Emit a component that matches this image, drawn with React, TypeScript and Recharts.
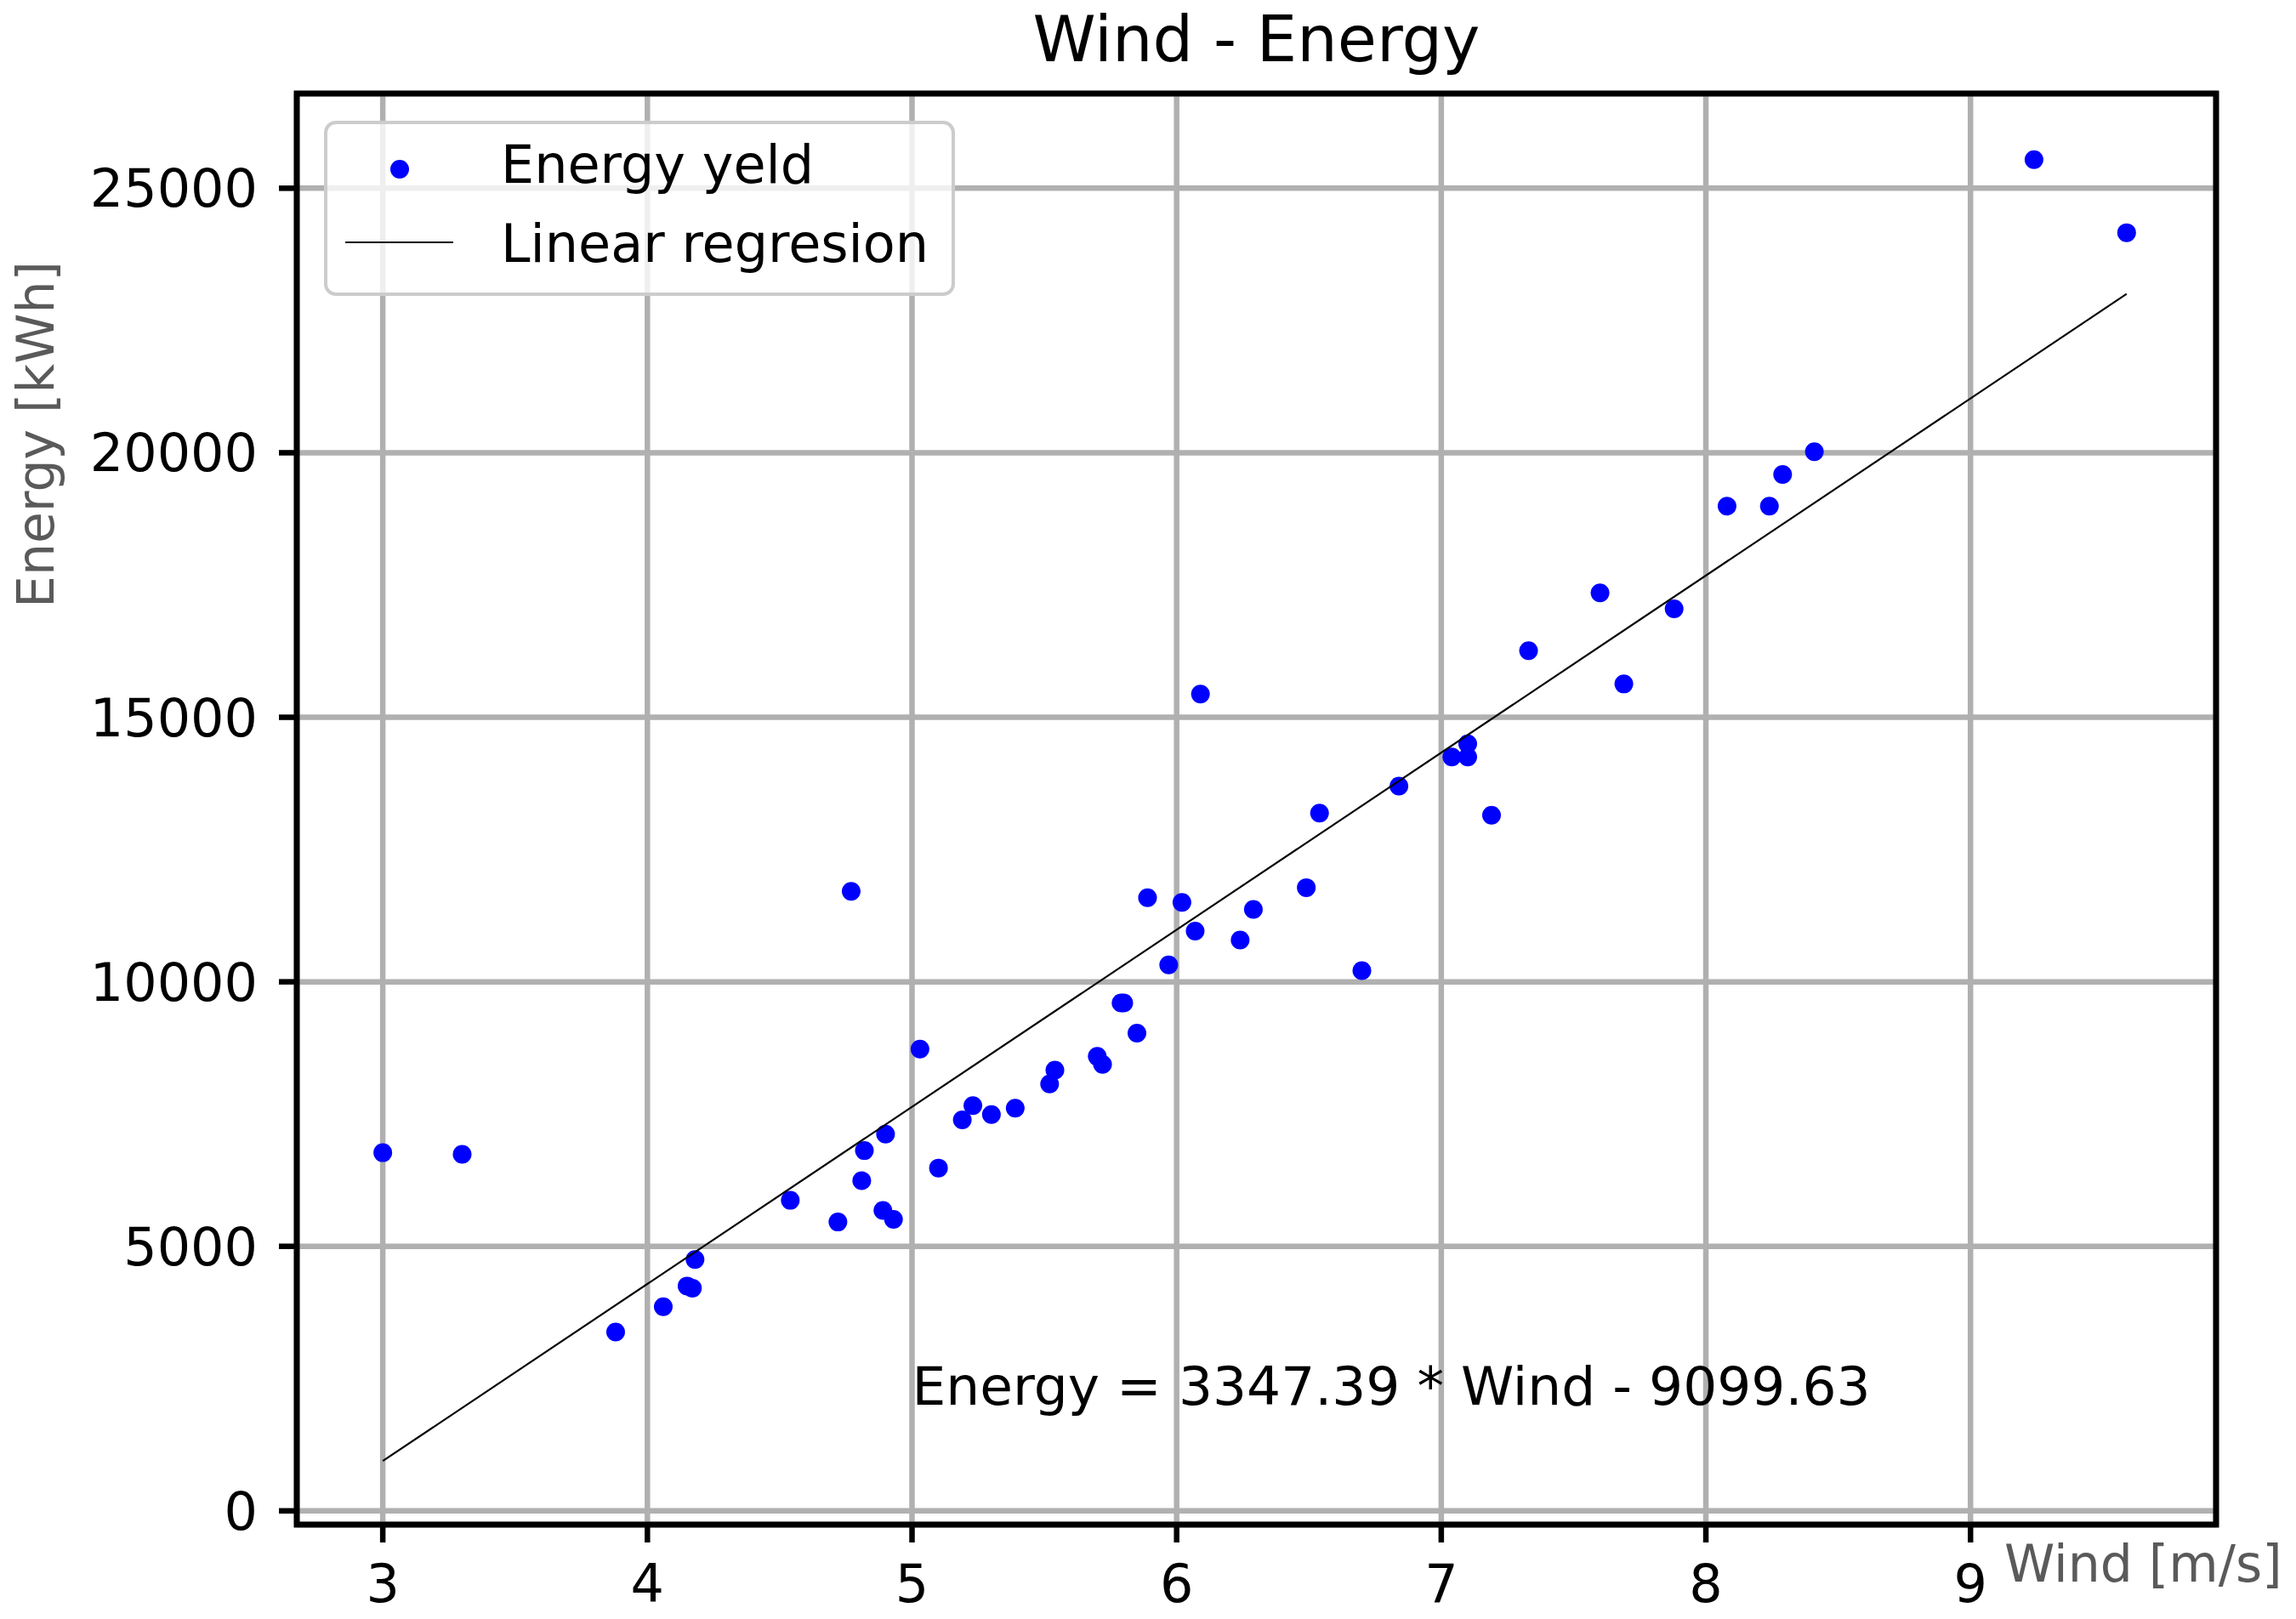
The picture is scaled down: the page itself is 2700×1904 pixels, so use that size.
import React from 'react';
import {
  ScatterChart,
  Scatter,
  XAxis,
  YAxis,
  CartesianGrid,
  ReferenceArea,
  ReferenceDot,
  Legend
} from 'recharts';

// measured wind speed [m/s] and energy yield [kWh]
const windSpeed = [
  3.0, 3.3, 3.88, 4.06, 4.15, 4.17, 4.18, 4.54, 4.72, 4.77, 4.81, 4.82, 4.89, 4.9,
  4.93, 5.03, 5.1, 5.19, 5.23, 5.3, 5.39, 5.52, 5.54, 5.7, 5.72, 5.79, 5.8, 5.85,
  5.89, 5.97, 6.02, 6.07, 6.09, 6.24, 6.29, 6.49, 6.54, 6.7, 6.84, 7.04, 7.1, 7.1,
  7.19, 7.33, 7.6, 7.69, 7.88, 8.08, 8.24, 8.29, 8.41, 9.24, 9.59
];
const energyYield = [
  6770, 6740, 3380, 3860, 4250, 4210, 4750, 5870, 5460, 11710, 6240, 6810, 5680, 7120,
  5510, 8730, 6480, 7390, 7660, 7490, 7610, 8070, 8330, 8590, 8440, 9600, 9600, 9030,
  11590, 10320, 11500, 10960, 15440, 10790, 11370, 11780, 13190, 10210, 13700, 14250, 14500, 14250,
  13150, 16260, 17350, 15630, 17050, 18990, 18990, 19590, 20020, 25540, 24160
];

const xTicks = [3, 4, 5, 6, 7, 8, 9];
const yTicks = [0, 5000, 10000, 15000, 20000, 25000];
const xDomain = [2.675, 9.928];
const yDomain = [-260, 26790];

// regression shown in the chart
const SLOPE = 3347.39;
const INTERCEPT = -9099.63;
const fitRange = [3.0, 9.59];
const EQUATION = `Energy = ${SLOPE} * Wind - ${Math.abs(INTERCEPT)}`;
const equationAt = { wind: 5.0, energy: 2000 };

const points = windSpeed.map((w, i) => ({ wind: w, energy: energyYield[i] }));
const fitLine = fitRange.map((w) => ({ wind: w, energy: SLOPE * w + INTERCEPT }));

const FONT = '"DejaVu Sans", Verdana, sans-serif';
const LABEL_GREY = '#5a5a5a';

const XTick = (props: any) => (
  <text x={props.x} y={props.y + 70} textAnchor="middle" fontSize={62} fontFamily={FONT} fill="#000">
    {props.payload.value}
  </text>
);

const YTick = (props: any) => (
  <text x={props.x} y={props.y + 22} textAnchor="end" fontSize={62} fontFamily={FONT} fill="#000">
    {props.payload.value}
  </text>
);

const XLabel = (props: any) => {
  const vb = props.viewBox;
  return (
    <text x={vb.x + 2008} y={vb.y + 67} fontSize={60} fontFamily={FONT} fill={LABEL_GREY}>
      Wind [m/s]
    </text>
  );
};

const YLabel = (props: any) => {
  const vb = props.viewBox;
  return (
    <text
      transform={`translate(${vb.x + 63}, ${vb.y + 401}) rotate(-90)`}
      textAnchor="middle"
      fontSize={60}
      fontFamily={FONT}
      fill={LABEL_GREY}
    >
      Energy [kWh]
    </text>
  );
};

const EquationLabel = (props: any) => {
  const vb = props.viewBox || { x: 0, y: 0, width: 0, height: 0 };
  return (
    <text x={vb.x + vb.width / 2} y={vb.y + vb.height / 2} fontSize={63} fontFamily={FONT} fill="#000">
      {EQUATION}
    </text>
  );
};

const LegendBox = () => (
  <svg width={742} height={206} style={{ display: 'block' }}>
    <rect x={2} y={2} width={738} height={202} rx={12} fill="#fff" fillOpacity={0.8} stroke="#cccccc" strokeWidth={4} />
    <circle cx={89} cy={57} r={11} fill="#0000ff" />
    <line x1={25} x2={152} y1={143} y2={143} stroke="#000" strokeWidth={2} />
    <text x={208} y={73} fontSize={62} fontFamily={FONT} fill="#000">Energy yeld</text>
    <text x={208} y={166} fontSize={62} fontFamily={FONT} fill="#000">Linear regresion</text>
  </svg>
);

const Dot = (props: any) => <circle cx={props.cx} cy={props.cy} r={11} fill="#0000ff" />;
const NoDot = () => <g />;

export default function App() {
  return (
    <div style={{ position: 'absolute', left: 0, top: 0, width: 2700, height: 1904, background: '#fff' }}>
      <div
        style={{
          position: 'absolute',
          left: 349,
          top: 9,
          width: 2257,
          textAlign: 'center',
          fontFamily: FONT,
          fontSize: 75,
          lineHeight: '75px',
          color: '#000',
          zIndex: 2
        }}
      >
        Wind - Energy
      </div>
      <ScatterChart width={2700} height={1904} margin={{ top: 110, right: 94, bottom: 0, left: 0 }}>
        <CartesianGrid stroke="#b0b0b0" strokeWidth={6.5} />
        <XAxis
          type="number"
          dataKey="wind"
          domain={xDomain}
          ticks={xTicks}
          interval={0}
          allowDataOverflow
          height={111}
          tickSize={21}
          tickMargin={0}
          axisLine={false}
          tickLine={{ stroke: '#000', strokeWidth: 6.5 }}
          tick={<XTick />}
          label={XLabel}
        />
        <YAxis
          type="number"
          dataKey="energy"
          domain={yDomain}
          ticks={yTicks}
          interval={0}
          allowDataOverflow
          width={349}
          tickSize={21}
          tickMargin={25}
          axisLine={false}
          tickLine={{ stroke: '#000', strokeWidth: 6.5 }}
          tick={<YTick />}
          label={YLabel}
        />
        <Scatter data={points} shape={Dot} isAnimationActive={false} />
        <Scatter
          data={fitLine}
          shape={NoDot}
          line={{ stroke: '#000', strokeWidth: 2.2 }}
          isAnimationActive={false}
        />
        <ReferenceDot
          x={equationAt.wind}
          y={equationAt.energy}
          r={0}
          fill="none"
          stroke="none"
          ifOverflow="visible"
          label={EquationLabel}
        />
        <ReferenceArea
          x1={xDomain[0]}
          x2={xDomain[1]}
          y1={yDomain[0]}
          y2={yDomain[1]}
          fill="none"
          fillOpacity={0}
          stroke="#000"
          strokeWidth={7}
          ifOverflow="visible"
        />
        <Legend
          layout="horizontal"
          verticalAlign="middle"
          align="center"
          wrapperStyle={{ left: 381, top: 142, width: 742, height: 206 }}
          content={LegendBox}
        />
      </ScatterChart>
    </div>
  );
}
